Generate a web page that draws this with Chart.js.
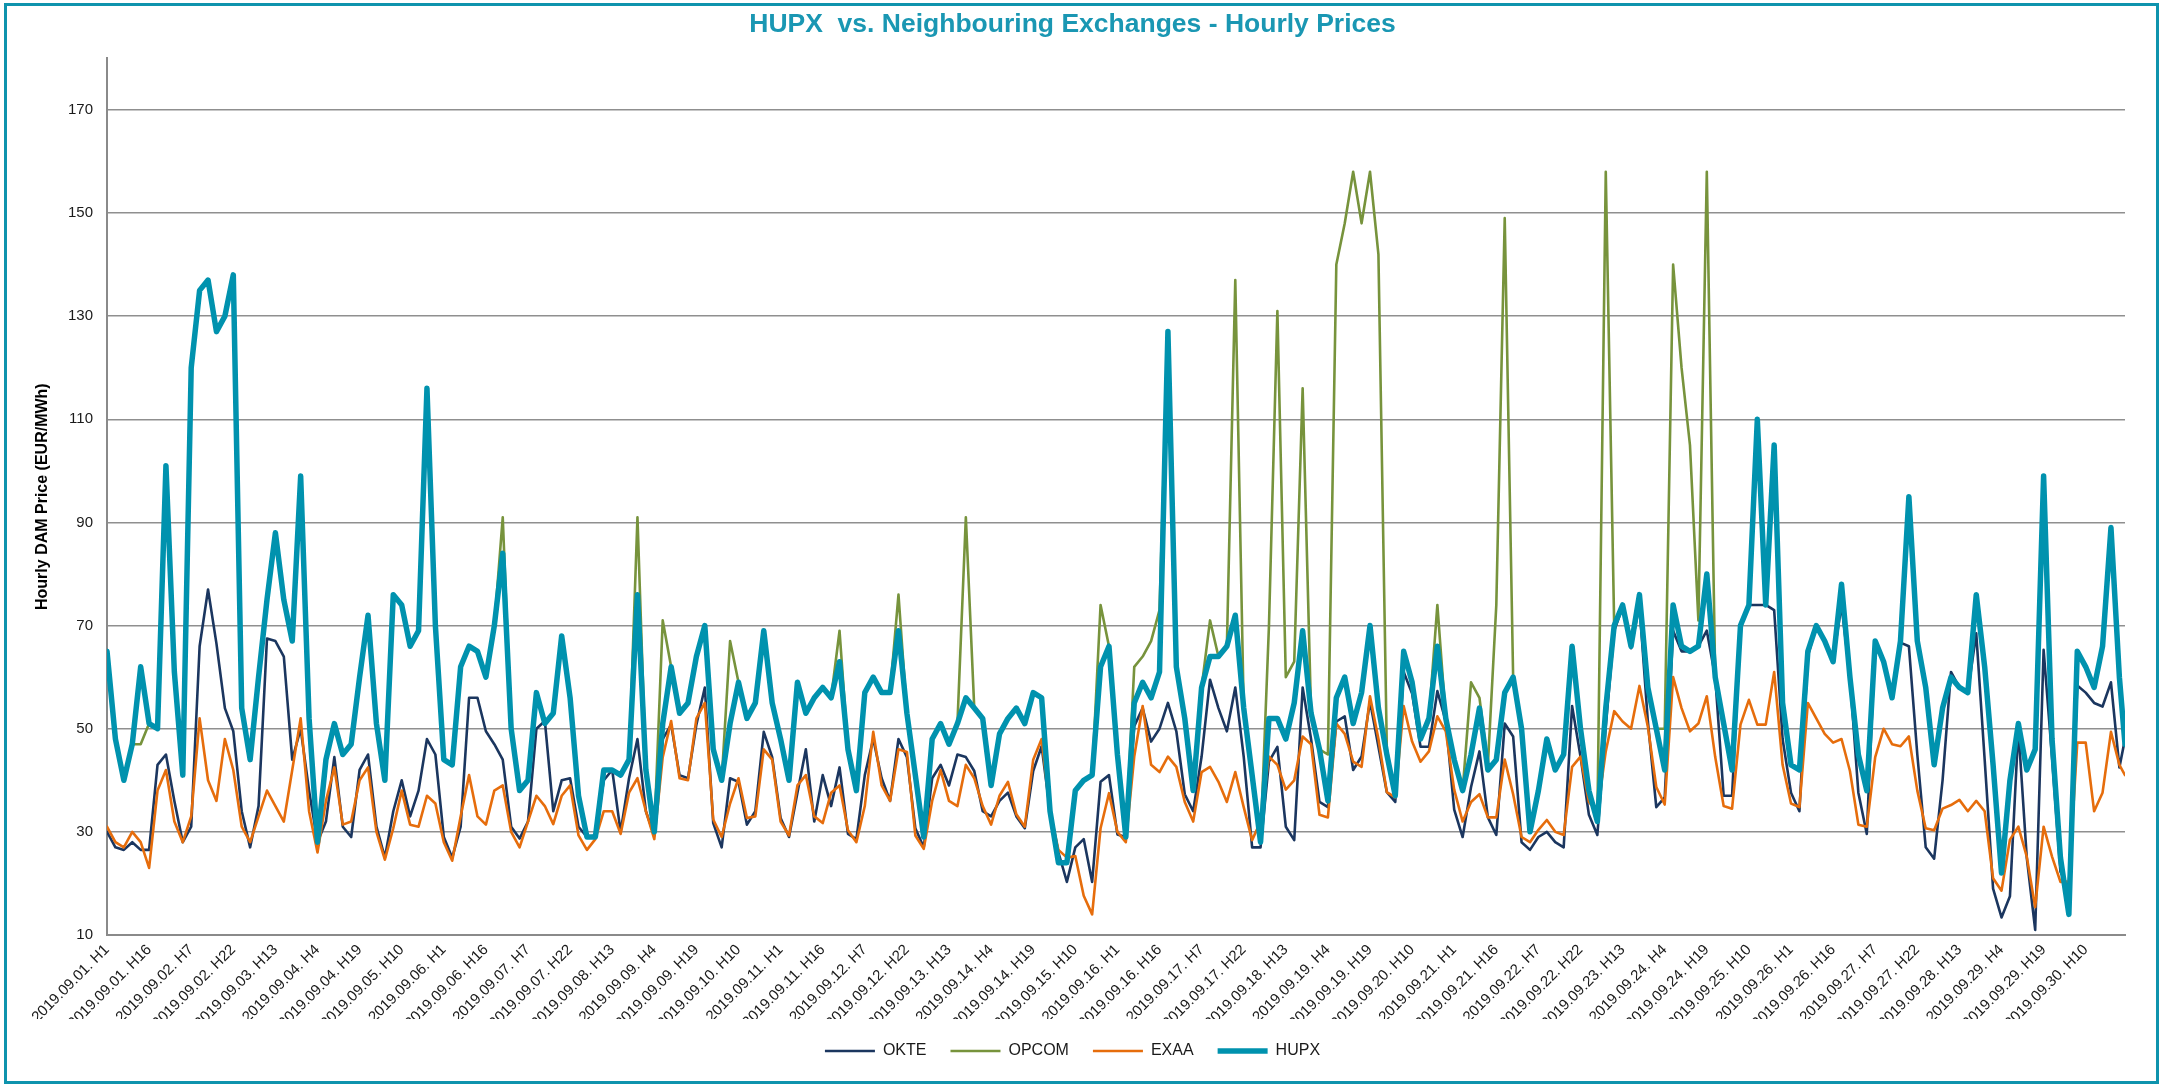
<!DOCTYPE html>
<html>
<head>
<meta charset="utf-8">
<script src="https://cdn.jsdelivr.net/npm/chart.js@4.4.1/dist/chart.umd.min.js"></script>
<style>
  html, body { margin: 0; padding: 0; background: #fff; }
  #wrap { position: relative; width: 2162px; height: 1086px; }
  #grafico { display: block; }
  #moldura { position: absolute; left: 4px; top: 3px; width: 2155px; height: 1081px; border: 3px solid #0e93ad; box-sizing: border-box; pointer-events: none; }
</style>
</head>
<body>
<div id="wrap">
  <canvas id="grafico" width="2162" height="1086"></canvas>
  <div id="moldura"></div>
</div>
<script>
/* =========================
   DADOS (a cada 3 horas: H1, H4, H7, H10, H13, H16, H19, H22 de cada dia)
========================= */
const hupx = [
  65, 48, 40, 47, 62, 51, 50, 101,
  61, 41, 120, 135, 137, 127, 130, 138,
  54, 44, 60, 75, 88, 75, 67, 99,
  52, 28, 44, 51, 45, 47, 60, 72,
  51, 40, 76, 74, 66, 69, 116, 70,
  44, 43, 62, 66, 65, 60, 70, 84,
  50, 38, 40, 57, 51, 53, 68, 56,
  37, 29, 29, 42, 42, 41, 44, 76,
  42, 30, 51, 62, 53, 55, 64, 70,
  46, 40, 51, 59, 52, 55, 69, 55,
  48, 40, 59, 53, 56, 58, 56, 63,
  46, 38, 57, 60, 57, 57, 69, 53,
  41, 29, 48, 51, 47, 51, 56, 54,
  52, 39, 49, 52, 54, 51, 57, 56,
  34, 24, 24, 38, 40, 41, 62, 66,
  45, 29, 55, 59, 56, 61, 127, 62,
  52, 38, 58, 64, 64, 66, 72, 54,
  41, 28, 52, 52, 48, 55, 69, 53,
  46, 36, 56, 60, 51, 57, 70, 54,
  45, 37, 65, 59, 48, 52, 66, 52,
  44, 38, 45, 54, 42, 44, 57, 60,
  50, 30, 38, 48, 42, 45, 66, 50,
  38, 32, 54, 70, 74, 66, 76, 58,
  50, 42, 74, 66, 65, 66, 80, 60,
  51, 42, 70, 74, 110, 74, 105, 55,
  43, 42, 65, 70, 67, 63, 78, 60,
  45, 38, 67, 63, 56, 67, 95, 67,
  58, 43, 54, 60, 58, 57, 76, 62,
  43, 22, 40, 51, 42, 46, 99, 48,
  25, 14, 65, 62, 58, 66, 89, 60,
  47
];

const opcom = [
  65, 48, 40, 47, 47, 51, 50, 101,
  61, 41, 120, 135, 137, 127, 130, 138,
  54, 44, 60, 75, 88, 75, 67, 99,
  52, 28, 44, 51, 45, 47, 60, 72,
  51, 40, 76, 74, 66, 69, 116, 70,
  44, 43, 62, 66, 65, 60, 70, 91,
  50, 38, 40, 57, 51, 53, 68, 56,
  37, 29, 29, 42, 42, 41, 44, 91,
  42, 30, 71, 62, 53, 55, 64, 70,
  46, 40, 67, 59, 52, 55, 69, 55,
  48, 40, 59, 53, 56, 58, 56, 69,
  46, 38, 57, 60, 57, 57, 76, 53,
  41, 29, 48, 51, 47, 51, 91, 54,
  52, 39, 49, 52, 54, 51, 57, 56,
  34, 24, 24, 38, 40, 41, 74, 66,
  45, 29, 62, 64, 67, 73, 127, 62,
  52, 38, 58, 71, 64, 66, 137, 54,
  41, 28, 70, 131, 60, 63, 116, 53,
  46, 45, 140, 148, 158, 148, 158, 142,
  46, 37, 65, 59, 48, 52, 74, 52,
  44, 38, 59, 56, 43, 74, 149, 60,
  50, 30, 38, 48, 42, 45, 66, 50,
  38, 32, 158, 70, 74, 66, 76, 58,
  50, 50, 140, 120, 105, 71, 158, 60,
  51, 42, 70, 74, 110, 74, 105, 55,
  43, 42, 65, 70, 67, 63, 78, 60,
  45, 38, 67, 63, 56, 67, 95, 67,
  58, 43, 54, 60, 58, 57, 76, 62,
  43, 22, 40, 51, 42, 46, 99, 48,
  25, 14, 65, 62, 58, 66, 89, 60,
  47
];

const okte = [
  30, 27, 26.5, 28, 26.5, 26.5, 43, 45,
  36, 28, 31, 66, 77, 66.5, 54, 49.5,
  34, 27, 35, 67.5, 67, 64, 44, 50,
  38, 28, 32, 44.5, 31, 29, 42, 45,
  31, 25, 34, 40, 33, 38, 48, 45,
  29, 25, 31, 56, 56, 49.5, 47, 44,
  31, 28.7, 32, 50, 51.5, 34, 40, 40.4,
  31, 29, 29.3, 40, 42, 30, 40.4, 48,
  34, 29.3, 48, 50.8, 41, 40.4, 50.8, 58,
  31.7, 27, 40.4, 39.7, 31.4, 34, 49.4, 44.5,
  32.7, 29, 37.6, 46, 32, 41, 35, 42.5,
  29.6, 28.6, 41, 48, 40.4, 36, 48, 44.5,
  30.7, 27, 40.4, 43, 39, 45, 44.5, 41.8,
  34, 33, 36, 37.6, 33, 30.7, 41.8, 46.6,
  34, 26, 20.3, 27, 28.6, 20.3, 39.7, 41,
  29.5, 29, 50.5, 54, 47.5, 50, 55, 49.5,
  37.3, 34, 44.6, 59.5, 54, 49.5, 58, 44.6,
  27, 27, 43.6, 46.5, 31, 28.4, 58, 48,
  35.8, 34.8, 51.4, 52.4, 42, 44.6, 55.3, 46.5,
  37.7, 35.8, 61, 56.8, 46.5, 46.5, 57.3, 51.4,
  34.3, 29, 38.7, 45.6, 32.8, 29.4, 51, 48.5,
  28, 26.5, 29, 30, 28, 27, 54.4, 44.6,
  33.3, 29.4, 50.4, 69, 73.6, 65.6, 74, 51.4,
  34.8, 36.7, 69, 65, 65, 66, 69, 60,
  37, 37, 69.5, 74, 74, 74, 73, 48,
  37.6, 34, 64, 70, 66.7, 63.3, 74, 60,
  37.6, 29.6, 67, 62.6, 56, 66.7, 66, 45,
  27, 24.8, 40, 61, 58, 57, 68.5, 44,
  19, 13.4, 17.5, 50, 25, 11, 65.3, 44.5,
  22.3, 19, 58.4, 57, 55, 54.3, 59, 42.5,
  48
];

const exaa = [
  31, 28, 27, 30, 28, 23, 38, 42,
  32, 28, 33, 52, 40, 36, 48, 42,
  31, 28, 33, 38, 35, 32, 42, 52,
  34, 26, 36, 42.5, 31.4, 32, 40, 42.5,
  30, 24.6, 30.7, 38, 31.4, 31, 37, 35.5,
  28, 24.4, 33, 41, 33, 31.4, 38, 39,
  30, 27, 32, 37, 35, 31.5, 37, 39,
  29.3, 26.5, 28.6, 34, 34, 29.6, 37.6, 40.4,
  34, 28.6, 44.5, 51.5, 40.4, 40, 52, 55,
  32.4, 29, 35.5, 40.4, 32.7, 33, 46, 44,
  32, 29.3, 39, 41, 33, 31.7, 37.6, 39,
  30.3, 28, 35, 49.4, 39, 36, 46, 45.5,
  29.3, 26.7, 36, 42, 36, 35, 43, 40.4,
  35, 31.4, 37, 39.7, 33.4, 31, 44, 48,
  34, 26.5, 25, 25.3, 17.6, 14, 30.7, 37.5,
  30, 28, 44.6, 54.4, 43, 41.6, 44.6, 42.6,
  35.8, 32, 41.6, 42.6, 39.7, 35.8, 41.6, 34.8,
  28.4, 32, 44.6, 43, 38.2, 40, 48.5, 47,
  33.3, 32.8, 51, 49, 43.6, 42.6, 56.3, 48,
  37.7, 36.7, 54.4, 47.5, 43.6, 45.6, 52.4, 49.5,
  38.2, 32, 35.8, 37.3, 32.8, 32.8, 44, 37.3,
  29, 28, 30.4, 32.3, 30, 29.4, 42.6, 44.6,
  35.8, 33.8, 45.6, 53.4, 51.4, 50, 58.3, 50.4,
  38.7, 35.3, 60, 54, 49.5, 51, 56.3, 44.5,
  35, 34.5, 50.8, 55.6, 50.8, 50.8, 61, 43,
  35.5, 34.8, 55, 52, 49, 47.3, 48, 41.8,
  31.4, 31, 44.5, 50, 47, 46.6, 48.5, 38,
  30.7, 30.3, 34.5, 35.2, 36.2, 34, 36, 34,
  21, 18.6, 28.5, 31, 25.2, 15.4, 31, 25.2,
  20.3, 20.3, 47.3, 47.3, 34, 37.6, 49.4, 43,
  41
];

const rotulosX = [
  "2019.09.01. H1", "2019.09.01. H16", "2019.09.02. H7", "2019.09.02. H22",
  "2019.09.03. H13", "2019.09.04. H4", "2019.09.04. H19", "2019.09.05. H10",
  "2019.09.06. H1", "2019.09.06. H16", "2019.09.07. H7", "2019.09.07. H22",
  "2019.09.08. H13", "2019.09.09. H4", "2019.09.09. H19", "2019.09.10. H10",
  "2019.09.11. H1", "2019.09.11. H16", "2019.09.12. H7", "2019.09.12. H22",
  "2019.09.13. H13", "2019.09.14. H4", "2019.09.14. H19", "2019.09.15. H10",
  "2019.09.16. H1", "2019.09.16. H16", "2019.09.17. H7", "2019.09.17. H22",
  "2019.09.18. H13", "2019.09.19. H4", "2019.09.19. H19", "2019.09.20. H10",
  "2019.09.21. H1", "2019.09.21. H16", "2019.09.22. H7", "2019.09.22. H22",
  "2019.09.23. H13", "2019.09.24. H4", "2019.09.24. H19", "2019.09.25. H10",
  "2019.09.26. H1", "2019.09.26. H16", "2019.09.27. H7", "2019.09.27. H22",
  "2019.09.28. H13", "2019.09.29. H4", "2019.09.29. H19", "2019.09.30. H10"
];
const ticksY = [10, 30, 50, 70, 90, 110, 130, 150, 170];

// horas (0 = 2019.09.01 H1) de cada valor acima
const horas = [];
for (let h = 0; h < 720; h += 3) horas.push(h);
horas.push(719);

function serie(valores) {
  return horas.map((h, k) => ({ x: h, y: valores[k] }));
}

/* =========================
   GRÁFICO
========================= */
Chart.defaults.font.family = "'Liberation Sans', Arial, sans-serif";
Chart.defaults.color = "#1a1a1a";

const ctx = document.getElementById("grafico").getContext("2d");
new Chart(ctx, {
  type: "line",
  data: {
    datasets: [
      { label: "OKTE", data: serie(okte), borderColor: "#1b365f", borderWidth: 2.6, order: 3 },
      { label: "OPCOM", data: serie(opcom), borderColor: "#77933c", borderWidth: 2.6, order: 2 },
      { label: "EXAA", data: serie(exaa), borderColor: "#e66d0c", borderWidth: 2.6, order: 1 },
      { label: "HUPX", data: serie(hupx), borderColor: "#0092ae", borderWidth: 5.5, order: 0 }
    ]
  },
  options: {
    responsive: false,
    animation: false,
    devicePixelRatio: 1,
    layout: { padding: { left: 20, right: 37, top: 0, bottom: 17 } },
    elements: {
      point: { radius: 0 },
      line: { tension: 0, fill: false, borderJoinStyle: "round", borderCapStyle: "round" }
    },
    plugins: {
      title: {
        display: true,
        text: "HUPX  vs. Neighbouring Exchanges - Hourly Prices",
        color: "#1a97b3",
        font: { size: 26.5, weight: "bold" },
        padding: { top: 9, bottom: 17.5 }
      },
      legend: {
        position: "bottom",
        labels: {
          usePointStyle: true,
          pointStyle: "line",
          pointStyleWidth: 50,
          boxWidth: 50,
          padding: 24,
          color: "#1a1a1a",
          font: { size: 16 },
          sort: (a, b) => a.datasetIndex - b.datasetIndex
        }
      },
      tooltip: { enabled: false }
    },
    scales: {
      x: {
        type: "linear",
        min: 0,
        max: 719,
        afterFit: s => { s.height = 84; },
        grid: { display: false, drawTicks: false },
        border: { display: true, color: "#8a8a8a", width: 2 },
        ticks: {
          stepSize: 15,
          autoSkip: false,
          includeBounds: false,
          maxRotation: 45,
          minRotation: 45,
          padding: 6,
          color: "#1a1a1a",
          font: { size: 15 },
          callback: v => rotulosX[Math.round(v / 15)]
        }
      },
      y: {
        min: 10,
        max: 180,
        afterFit: s => { s.width = 87; },
        afterBuildTicks: s => { s.ticks = ticksY.map(v => ({ value: v })); },
        grid: { color: "#8f8f8f", lineWidth: 1.5, drawTicks: false },
        border: { display: true, color: "#8a8a8a", width: 2 },
        ticks: { padding: 14, color: "#1a1a1a", font: { size: 15 } },
        title: {
          display: true,
          text: "Hourly DAM Price (EUR/MWh)",
          color: "#000",
          font: { size: 16, weight: "bold" },
          padding: { top: 13, bottom: 0 }
        }
      }
    }
  }
});
</script>
</body>
</html>
